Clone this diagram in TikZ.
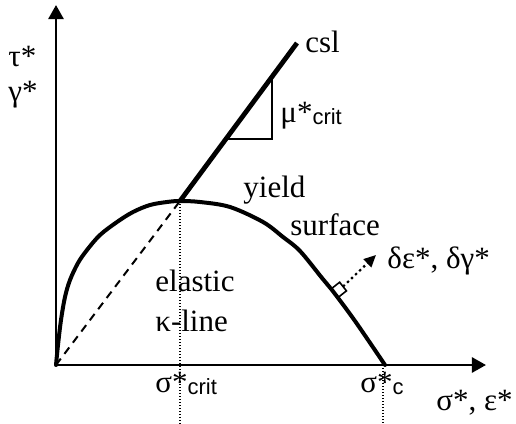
\documentclass[tikz,border=0pt]{standalone}
\usepackage{fontspec}
\setmainfont{Liberation Serif}
\newfontfamily\subsans{Liberation Sans}
\usetikzlibrary{arrows.meta}
\newcommand{\subtxt}[1]{\raisebox{-1pt}{\subsans\fontsize{11}{13}\selectfont #1}}

\begin{document}
\begin{tikzpicture}[x=0.5pt, y=-0.5pt,
    lbl/.style={inner sep=0pt, font=\fontsize{15.5}{18}\selectfont},
    axis/.style={line width=1.3pt, -{Triangle[length=7pt,width=7.5pt]}},
    yieldline/.style={line width=2pt, line join=round, line cap=round},
    cslline/.style={line width=2.4pt},
    guide/.style={line width=0.7pt, dash pattern=on 0.7pt off 0.8pt},
    flow/.style={line width=1.1pt, dash pattern=on 1.2pt off 1.6pt, -{Triangle[length=6pt,width=5.5pt]}}]

\useasboundingbox (0,0) rectangle (516,424);

% =============================================
% EJES
% =============================================
\coordinate (O) at (56,365);
\coordinate (xend) at (486,365);
\coordinate (yend) at (56,5);
\draw[axis] (O) -- (xend);
\draw[axis] (O) -- (yend);

\node[lbl, anchor=base west] (tau) at (8,66) {τ*};
\node[lbl, anchor=base west] (gam) at (8,101) {γ*};
\node[lbl, anchor=base west] (xlab) at (436,410) {σ*, ε*};

% =============================================
% PUNTOS CRITICOS
% =============================================
\coordinate (P) at (180,201);    % pico: csl corta la superficie
\coordinate (C) at (297,43);     % fin de la csl
\coordinate (Sc) at (385,365);   % sigma*_c
\coordinate (Pb) at (180,424);
\coordinate (Scb) at (383,424);

% lineas guia punteadas
\draw[guide] (P) -- (Pb);
\draw[guide] (383,365) -- (Scb);

% linea elastica (kappa-line)
\draw[line width=1pt, dash pattern=on 4pt off 3pt] (O) -- (P);

% =============================================
% SUPERFICIE DE FLUENCIA
% =============================================
\draw[yieldline] plot[smooth, tension=0.55] coordinates {
    (56,365) (58,345) (61,320) (65,297) (70,280) (78,263) (87,250)
    (100,235) (117,222) (133,212) (150,205) (167,202) (180,201)
    (200,202) (230,207) (263,222) (283,237) (300,251) (322,278)
    (332,290) (355,321) (385,365)};

% =============================================
% CSL y pendiente
% =============================================
\draw[cslline] (P) -- (C);
\coordinate (T1) at (272,80);
\coordinate (T2) at (272,139);
\coordinate (T3) at (227,139);
\draw[line width=0.7pt] (T1) -- (T2) -- (T3);
\node[lbl, anchor=base west] (csl) at (305,52) {csl};
\node[lbl, anchor=base west] (mu) at (280,122) {μ*\subtxt{crit}};

% =============================================
% NORMAL A LA SUPERFICIE
% =============================================
\begin{scope}[shift={(331,289)}, rotate=-52]
    \draw[line width=0.8pt] (0,0) -- (0,-11) -- (11,-11) -- (11,0);
    \coordinate (N0) at (5.5,-11);
\end{scope}
\coordinate (N1) at (376,255);
\draw[flow] (N0) -- (N1);
\node[lbl, anchor=base west] (dlab) at (387,268) {δε*, δγ*};

% =============================================
% TEXTOS
% =============================================
\node[lbl, anchor=base west] (yield) at (243,197) {yield};
\node[lbl, anchor=base west] (surf) at (290,235) {surface};
\node[lbl, anchor=base west] (elas) at (155,291) {elastic};
\node[lbl, anchor=base west] (kap) at (155,331) {κ-line};
\node[lbl, anchor=base west] (scrit) at (155,392) {σ*\subtxt{crit}};
\node[lbl, anchor=base west] (sc) at (360,392) {σ*\subtxt{c}};

\end{tikzpicture}
\end{document}
